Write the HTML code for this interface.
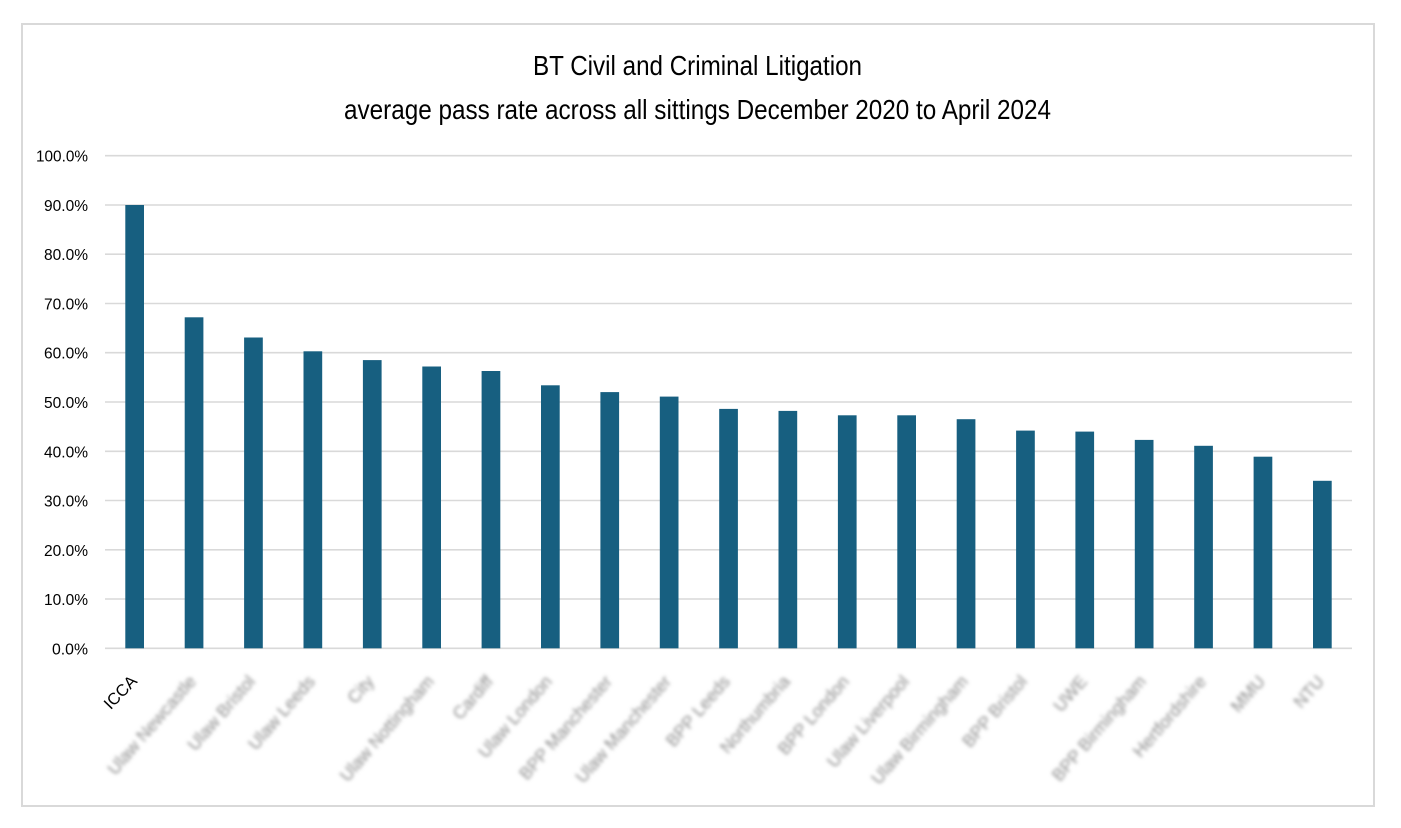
<!DOCTYPE html>
<html>
<head>
<meta charset="utf-8">
<style>
  html,body{margin:0;padding:0;background:#fff;}
  svg{display:block;}
  text{font-family:"Liberation Sans", sans-serif;}
</style>
</head>
<body>
<svg width="1401" height="828" viewBox="0 0 1401 828" xmlns="http://www.w3.org/2000/svg">
  <defs>
    <filter id="blur" x="-20%" y="-60%" width="140%" height="220%">
      <feGaussianBlur stdDeviation="1.9"/>
    </filter>
  </defs>
  <rect x="0" y="0" width="1401" height="828" fill="#fff"/>
  <rect x="22" y="24" width="1352" height="782" fill="#fff" stroke="#d9d9d9" stroke-width="2"/>

  <!-- Title -->
  <text x="533" y="75" font-size="28" fill="#000" textLength="329" lengthAdjust="spacingAndGlyphs">BT Civil and Criminal Litigation</text>
  <text x="344" y="119" font-size="28" fill="#000" textLength="707" lengthAdjust="spacingAndGlyphs">average pass rate across all sittings December 2020 to April 2024</text>

  <!-- Gridlines -->
  <g stroke="#d9d9d9" stroke-width="1.6">
    <line x1="105" x2="1352" y1="648.3" y2="648.3"/>
    <line x1="105" x2="1352" y1="599.0" y2="599.0"/>
    <line x1="105" x2="1352" y1="549.8" y2="549.8"/>
    <line x1="105" x2="1352" y1="500.5" y2="500.5"/>
    <line x1="105" x2="1352" y1="451.3" y2="451.3"/>
    <line x1="105" x2="1352" y1="402.0" y2="402.0"/>
    <line x1="105" x2="1352" y1="352.7" y2="352.7"/>
    <line x1="105" x2="1352" y1="303.5" y2="303.5"/>
    <line x1="105" x2="1352" y1="254.2" y2="254.2"/>
    <line x1="105" x2="1352" y1="205.0" y2="205.0"/>
    <line x1="105" x2="1352" y1="155.7" y2="155.7"/>
  </g>

  <!-- Y labels -->
  <g font-size="16" fill="#000" text-anchor="end">
    <text x="88" y="654.3" textLength="36" lengthAdjust="spacingAndGlyphs">0.0%</text>
    <text x="88" y="605.0" textLength="44" lengthAdjust="spacingAndGlyphs">10.0%</text>
    <text x="88" y="555.8" textLength="44" lengthAdjust="spacingAndGlyphs">20.0%</text>
    <text x="88" y="506.5" textLength="44" lengthAdjust="spacingAndGlyphs">30.0%</text>
    <text x="88" y="457.3" textLength="44" lengthAdjust="spacingAndGlyphs">40.0%</text>
    <text x="88" y="408.0" textLength="44" lengthAdjust="spacingAndGlyphs">50.0%</text>
    <text x="88" y="358.7" textLength="44" lengthAdjust="spacingAndGlyphs">60.0%</text>
    <text x="88" y="309.5" textLength="44" lengthAdjust="spacingAndGlyphs">70.0%</text>
    <text x="88" y="260.2" textLength="44" lengthAdjust="spacingAndGlyphs">80.0%</text>
    <text x="88" y="211.0" textLength="44" lengthAdjust="spacingAndGlyphs">90.0%</text>
    <text x="88" y="161.7" textLength="52" lengthAdjust="spacingAndGlyphs">100.0%</text>
  </g>

  <!-- Bars -->
  <g fill="#175f80">
    <rect x="125.3" y="205.0" width="18.7" height="443.3"/>
    <rect x="184.7" y="317.3" width="18.7" height="331.0"/>
    <rect x="244.1" y="337.5" width="18.7" height="310.8"/>
    <rect x="303.5" y="351.3" width="18.7" height="297.0"/>
    <rect x="362.9" y="360.1" width="18.7" height="288.2"/>
    <rect x="422.3" y="366.5" width="18.7" height="281.8"/>
    <rect x="481.6" y="371.0" width="18.7" height="277.3"/>
    <rect x="541.0" y="385.3" width="18.7" height="263.0"/>
    <rect x="600.4" y="392.1" width="18.7" height="256.2"/>
    <rect x="659.8" y="396.6" width="18.7" height="251.7"/>
    <rect x="719.2" y="408.9" width="18.7" height="239.4"/>
    <rect x="778.5" y="410.9" width="18.7" height="237.4"/>
    <rect x="837.9" y="415.3" width="18.7" height="233.0"/>
    <rect x="897.3" y="415.3" width="18.7" height="233.0"/>
    <rect x="956.7" y="419.2" width="18.7" height="229.1"/>
    <rect x="1016.1" y="430.6" width="18.7" height="217.7"/>
    <rect x="1075.4" y="431.6" width="18.7" height="216.7"/>
    <rect x="1134.8" y="439.9" width="18.7" height="208.4"/>
    <rect x="1194.2" y="445.8" width="18.7" height="202.5"/>
    <rect x="1253.6" y="456.7" width="18.7" height="191.6"/>
    <rect x="1313.0" y="480.8" width="18.7" height="167.5"/>
  </g>

  <!-- X labels -->
  <text font-size="16.5" fill="#000" text-anchor="end" transform="translate(138,682) rotate(-46)">ICCA</text>
  <g font-size="17.5" fill="#8c8c8c" text-anchor="end" filter="url(#blur)">
    <text transform="translate(197,682) rotate(-49)">Ulaw Newcastle</text>
    <text transform="translate(256,682) rotate(-49)">Ulaw Bristol</text>
    <text transform="translate(316,682) rotate(-49)">Ulaw Leeds</text>
    <text transform="translate(375,682) rotate(-49)">City</text>
    <text transform="translate(435,682) rotate(-49)">Ulaw Nottingham</text>
    <text transform="translate(494,682) rotate(-49)">Cardiff</text>
    <text transform="translate(553,682) rotate(-49)">Ulaw London</text>
    <text transform="translate(613,682) rotate(-49)">BPP Manchester</text>
    <text transform="translate(672,682) rotate(-49)">Ulaw Manchester</text>
    <text transform="translate(731,682) rotate(-49)">BPP Leeds</text>
    <text transform="translate(791,682) rotate(-49)">Northumbria</text>
    <text transform="translate(850,682) rotate(-49)">BPP London</text>
    <text transform="translate(910,682) rotate(-49)">Ulaw Liverpool</text>
    <text transform="translate(969,682) rotate(-49)">Ulaw Birmingham</text>
    <text transform="translate(1028,682) rotate(-49)">BPP Bristol</text>
    <text transform="translate(1088,682) rotate(-49)">UWE</text>
    <text transform="translate(1147,682) rotate(-49)">BPP Birmingham</text>
    <text transform="translate(1207,682) rotate(-49)">Hertfordshire</text>
    <text transform="translate(1266,682) rotate(-49)">MMU</text>
    <text transform="translate(1325,682) rotate(-49)">NTU</text>
  </g>
</svg>
</body>
</html>
